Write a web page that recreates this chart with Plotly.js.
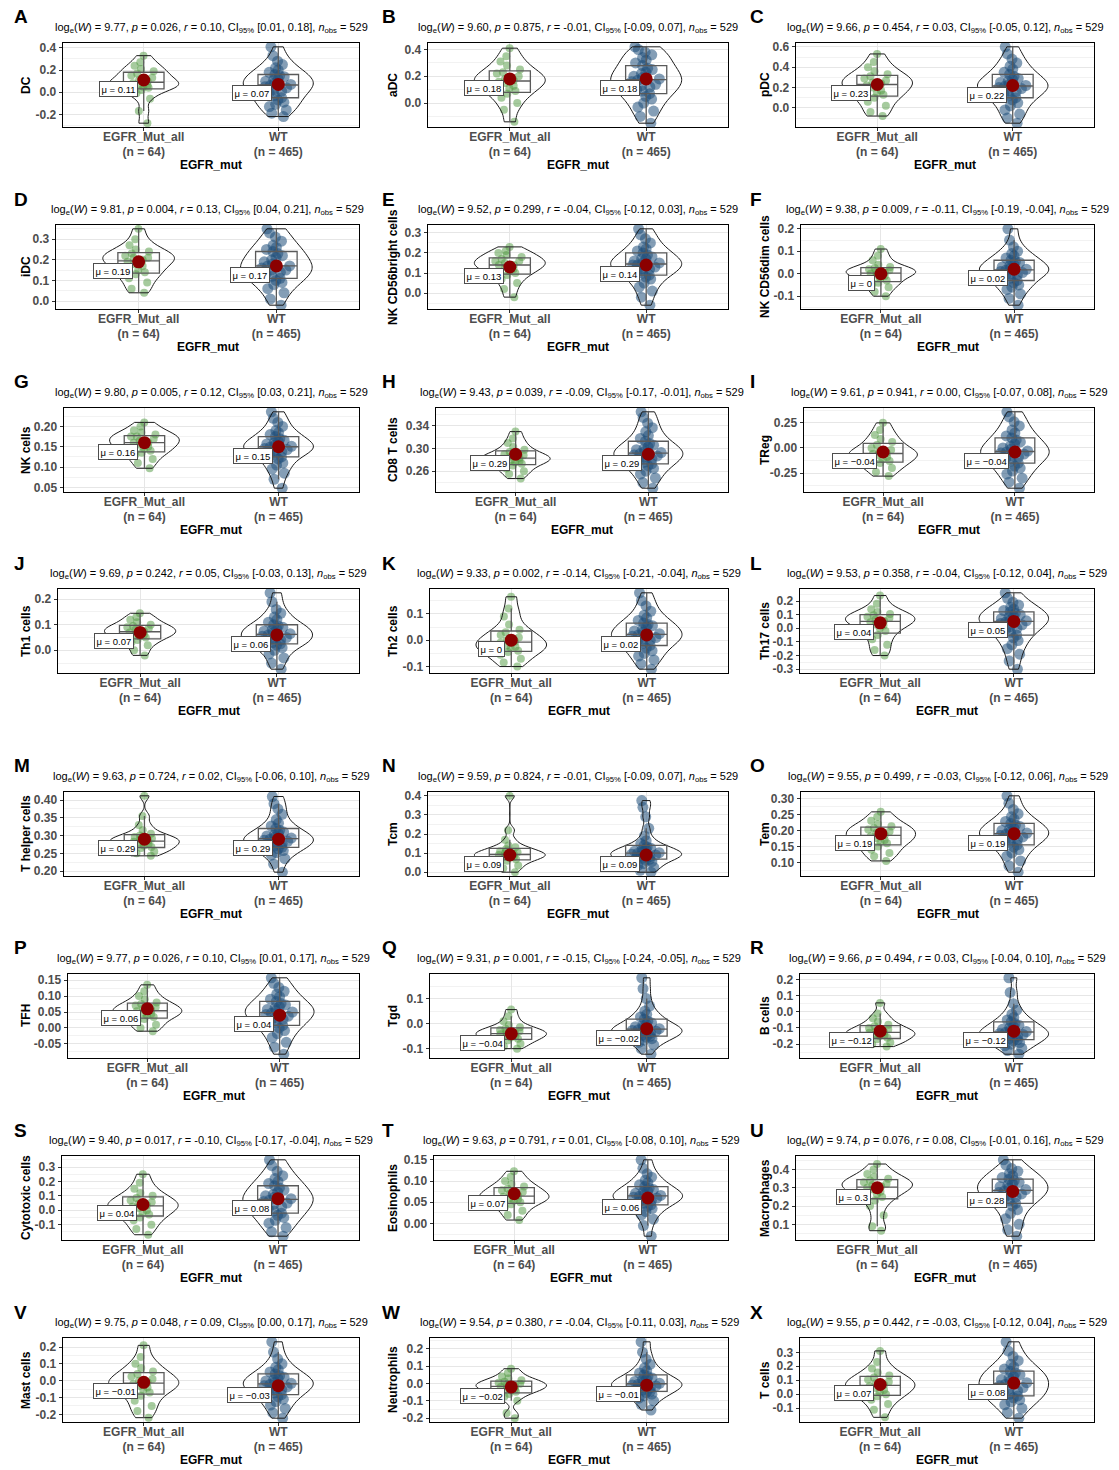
<!DOCTYPE html>
<html>
<head>
<meta charset="utf-8">
<script src="https://cdn.plot.ly/plotly-3.0.1.min.js"></script>
<style>html,body{margin:0;padding:0;background:#fff}#chart{width:1119px;height:1470px}</style>
</head>
<body>
<div id="chart"></div>
<script>
// ---------------- DATA ----------------
const groups = ["EGFR_Mut_all", "WT"];
const groupN = [64, 465];
const nObs = 529;
const panelLetters = ["A","B","C","D","E","F","G","H","I","J","K","L","M","N","O","P","Q","R","S","T","U","V","W","X"];
const cellTypes = ["DC","aDC","pDC","iDC","NK CD56bright cells","NK CD56dim cells","NK cells","CD8 T cells","TReg",
  "Th1 cells","Th2 cells","Th17 cells","T helper cells","Tcm","Tem","TFH","Tgd","B cells",
  "Cytotoxic cells","Eosinophils","Macrophages","Mast cells","Neutrophils","T cells"];
const logW   = ["9.77","9.60","9.66","9.81","9.52","9.38","9.80","9.43","9.61","9.69","9.33","9.53","9.63","9.59","9.55","9.77","9.31","9.66","9.40","9.63","9.74","9.75","9.54","9.55"];
const pVals  = ["0.026","0.875","0.454","0.004","0.299","0.009","0.005","0.039","0.941","0.242","0.002","0.358","0.724","0.824","0.499","0.026","0.001","0.494","0.017","0.791","0.076","0.048","0.380","0.442"];
const rVals  = ["0.10","-0.01","0.03","0.13","-0.04","-0.11","0.12","-0.09","0.00","0.05","-0.14","-0.04","0.02","-0.01","-0.03","0.10","-0.15","0.03","-0.10","0.01","0.08","0.09","-0.04","-0.03"];
const ciLow  = ["0.01","-0.09","-0.05","0.04","-0.12","-0.19","0.03","-0.17","-0.07","-0.03","-0.21","-0.12","-0.06","-0.09","-0.12","0.01","-0.24","-0.04","-0.17","-0.08","-0.01","0.00","-0.11","-0.12"];
const ciHigh = ["0.18","0.07","0.12","0.21","0.03","-0.04","0.21","-0.01","0.08","0.13","-0.04","0.04","0.10","0.07","0.06","0.17","-0.05","0.10","-0.04","0.10","0.16","0.17","0.03","0.04"];
const meanMut = [0.11,0.18,0.23,0.19,0.13,0,0.16,0.29,-0.04,0.07,0,0.04,0.29,0.09,0.19,0.06,-0.04,-0.12,0.04,0.07,0.3,-0.01,-0.02,0.07];
const meanWT  = [0.07,0.18,0.22,0.17,0.14,0.02,0.15,0.29,-0.04,0.06,0.02,0.05,0.29,0.09,0.19,0.04,-0.02,-0.12,0.08,0.06,0.28,-0.03,-0.01,0.08];

// estimated values per group
const mut_DC = [-0.28,-0.17,-0.06,-0.01,0.02,0.04,0.05,0.06,0.07,0.08,0.10,0.11,0.13,0.15,0.17,0.19,0.21,0.24,0.27,0.33];
const wt_DC  = [-0.22,-0.19,-0.16,-0.13,-0.11,-0.09,-0.07,-0.05,-0.03,-0.01,0.01,0.02,0.04,0.05,0.06,0.07,0.08,0.10,0.11,0.12,0.14,0.15,0.16,0.18,0.20,0.22,0.25,0.28,0.33,0.41];
const mut_aDC = [-0.14,-0.05,0.00,0.04,0.07,0.09,0.11,0.13,0.15,0.16,0.17,0.18,0.20,0.22,0.23,0.25,0.28,0.31,0.35,0.41];
const wt_aDC  = [-0.15,-0.10,-0.06,-0.03,0.00,0.03,0.05,0.07,0.09,0.10,0.12,0.13,0.14,0.16,0.17,0.18,0.19,0.20,0.22,0.23,0.25,0.26,0.28,0.30,0.32,0.34,0.36,0.38,0.40,0.42];
const mut_pDC = [-0.08,-0.04,0.02,0.06,0.10,0.13,0.15,0.17,0.20,0.22,0.24,0.25,0.27,0.29,0.31,0.33,0.36,0.40,0.45,0.53];
const wt_pDC  = [-0.15,-0.10,-0.06,-0.02,0.02,0.05,0.08,0.10,0.12,0.14,0.16,0.17,0.19,0.20,0.21,0.22,0.23,0.25,0.26,0.28,0.29,0.31,0.33,0.35,0.38,0.41,0.44,0.48,0.53,0.60];
const mut_iDC = [0.04,0.06,0.09,0.11,0.13,0.14,0.15,0.17,0.18,0.19,0.20,0.21,0.21,0.22,0.23,0.24,0.25,0.27,0.30,0.35];
const wt_iDC  = [-0.02,0.01,0.04,0.06,0.08,0.09,0.10,0.11,0.12,0.13,0.14,0.15,0.15,0.16,0.17,0.17,0.18,0.19,0.20,0.21,0.22,0.23,0.24,0.25,0.26,0.27,0.29,0.31,0.33,0.35];
const mut_NKbright = [-0.02,0.02,0.05,0.07,0.09,0.10,0.11,0.12,0.13,0.14,0.14,0.15,0.16,0.16,0.17,0.18,0.19,0.20,0.21,0.23];
const wt_NKbright  = [-0.06,-0.02,0.01,0.03,0.05,0.07,0.08,0.09,0.10,0.11,0.12,0.12,0.13,0.14,0.14,0.15,0.15,0.16,0.17,0.17,0.18,0.19,0.20,0.21,0.22,0.23,0.25,0.27,0.29,0.32];
const mut_NKdim = [-0.10,-0.08,-0.06,-0.05,-0.04,-0.03,-0.02,-0.01,-0.005,0.0,0.005,0.01,0.015,0.02,0.025,0.03,0.04,0.06,0.08,0.11];
const wt_NKdim  = [-0.14,-0.11,-0.09,-0.07,-0.06,-0.05,-0.04,-0.03,-0.02,-0.01,-0.005,0.0,0.005,0.01,0.015,0.02,0.025,0.03,0.035,0.04,0.05,0.055,0.06,0.07,0.08,0.09,0.10,0.12,0.15,0.20];
const mut_NK = [0.097,0.11,0.12,0.13,0.135,0.14,0.145,0.15,0.155,0.16,0.16,0.165,0.17,0.175,0.175,0.18,0.185,0.19,0.20,0.21];
const wt_NK  = [0.048,0.07,0.085,0.095,0.105,0.11,0.12,0.125,0.13,0.135,0.138,0.14,0.143,0.146,0.149,0.151,0.154,0.157,0.16,0.163,0.166,0.17,0.175,0.18,0.185,0.19,0.20,0.21,0.22,0.236];
const mut_CD8 = [0.247,0.255,0.26,0.265,0.27,0.273,0.276,0.278,0.28,0.282,0.284,0.286,0.288,0.29,0.294,0.298,0.303,0.31,0.318,0.33];
const wt_CD8  = [0.23,0.24,0.248,0.255,0.26,0.265,0.27,0.273,0.276,0.279,0.282,0.285,0.287,0.289,0.291,0.293,0.295,0.298,0.30,0.303,0.306,0.309,0.313,0.318,0.323,0.33,0.337,0.345,0.355,0.365];
const mut_TReg = [-0.28,-0.24,-0.20,-0.17,-0.15,-0.13,-0.11,-0.09,-0.07,-0.06,-0.05,-0.04,-0.02,0.0,0.03,0.06,0.09,0.13,0.18,0.25];
const wt_TReg  = [-0.40,-0.34,-0.30,-0.26,-0.23,-0.20,-0.18,-0.15,-0.13,-0.11,-0.09,-0.08,-0.06,-0.05,-0.04,-0.03,-0.01,0.0,0.02,0.04,0.06,0.08,0.10,0.12,0.15,0.18,0.22,0.26,0.31,0.36];
const mut_Th1 = [-0.02,0.0,0.02,0.03,0.04,0.05,0.055,0.06,0.065,0.07,0.075,0.08,0.085,0.09,0.095,0.10,0.11,0.12,0.13,0.145];
const wt_Th1  = [-0.074,-0.05,-0.03,-0.015,0.0,0.01,0.02,0.025,0.03,0.035,0.04,0.045,0.05,0.055,0.06,0.065,0.07,0.075,0.08,0.085,0.09,0.095,0.10,0.11,0.12,0.13,0.145,0.16,0.19,0.225];
const mut_Th2 = [-0.10,-0.085,-0.07,-0.055,-0.045,-0.04,-0.03,-0.025,-0.02,-0.01,-0.005,0.0,0.01,0.02,0.03,0.04,0.06,0.09,0.12,0.165];
const wt_Th2  = [-0.11,-0.09,-0.075,-0.06,-0.05,-0.04,-0.03,-0.02,-0.012,-0.005,0.0,0.005,0.01,0.015,0.02,0.025,0.03,0.035,0.04,0.05,0.055,0.06,0.065,0.075,0.085,0.095,0.11,0.13,0.15,0.18];
const mut_Th17 = [-0.20,-0.16,-0.12,-0.08,-0.05,-0.02,0.0,0.02,0.03,0.045,0.055,0.065,0.075,0.085,0.095,0.105,0.12,0.14,0.18,0.24];
const wt_Th17  = [-0.30,-0.24,-0.19,-0.15,-0.12,-0.09,-0.07,-0.05,-0.03,-0.01,0.0,0.01,0.025,0.035,0.045,0.055,0.06,0.07,0.08,0.09,0.10,0.11,0.12,0.13,0.14,0.155,0.17,0.19,0.22,0.26];
const mut_Th = [0.243,0.25,0.255,0.26,0.265,0.268,0.272,0.276,0.28,0.283,0.286,0.289,0.292,0.296,0.30,0.305,0.315,0.33,0.355,0.412];
const wt_Th  = [0.197,0.22,0.235,0.245,0.252,0.258,0.263,0.267,0.271,0.275,0.278,0.281,0.284,0.287,0.29,0.293,0.296,0.299,0.302,0.306,0.31,0.315,0.32,0.327,0.335,0.345,0.36,0.375,0.39,0.41];
const mut_Tcm = [0.0,0.02,0.035,0.05,0.06,0.068,0.075,0.08,0.085,0.09,0.095,0.10,0.105,0.11,0.12,0.13,0.14,0.17,0.22,0.40];
const wt_Tcm  = [0.0,0.01,0.025,0.035,0.045,0.055,0.062,0.068,0.073,0.078,0.082,0.086,0.09,0.094,0.098,0.102,0.106,0.11,0.115,0.12,0.125,0.132,0.14,0.15,0.165,0.19,0.23,0.29,0.34,0.375];
const mut_Tem = [0.105,0.12,0.13,0.14,0.15,0.16,0.165,0.17,0.176,0.182,0.187,0.192,0.197,0.203,0.208,0.213,0.22,0.23,0.243,0.258];
const wt_Tem  = [0.07,0.09,0.105,0.12,0.13,0.14,0.148,0.155,0.162,0.168,0.172,0.176,0.18,0.184,0.188,0.192,0.196,0.2,0.204,0.208,0.212,0.217,0.222,0.228,0.235,0.243,0.252,0.265,0.285,0.308];
const mut_TFH = [-0.01,0.0,0.01,0.02,0.028,0.034,0.04,0.044,0.048,0.052,0.056,0.06,0.065,0.07,0.075,0.08,0.09,0.10,0.115,0.135];
const wt_TFH  = [-0.082,-0.06,-0.045,-0.03,-0.018,-0.008,0.0,0.008,0.015,0.021,0.027,0.032,0.037,0.042,0.046,0.05,0.054,0.058,0.062,0.067,0.072,0.077,0.083,0.09,0.098,0.106,0.115,0.127,0.14,0.157];
const mut_Tgd = [-0.10,-0.09,-0.08,-0.072,-0.066,-0.06,-0.055,-0.05,-0.046,-0.042,-0.038,-0.034,-0.03,-0.025,-0.02,-0.014,-0.005,0.01,0.03,0.056];
const wt_Tgd  = [-0.122,-0.1,-0.085,-0.075,-0.066,-0.06,-0.054,-0.05,-0.046,-0.042,-0.038,-0.034,-0.03,-0.027,-0.024,-0.02,-0.016,-0.012,-0.008,-0.003,0.003,0.01,0.018,0.027,0.037,0.05,0.07,0.1,0.14,0.183];
const mut_B = [-0.215,-0.2,-0.19,-0.18,-0.17,-0.16,-0.15,-0.145,-0.14,-0.13,-0.125,-0.12,-0.11,-0.1,-0.09,-0.08,-0.06,-0.04,-0.01,0.055];
const wt_B  = [-0.262,-0.24,-0.225,-0.21,-0.2,-0.19,-0.18,-0.172,-0.165,-0.158,-0.151,-0.145,-0.14,-0.134,-0.128,-0.122,-0.115,-0.108,-0.1,-0.092,-0.083,-0.073,-0.062,-0.05,-0.035,-0.015,0.01,0.05,0.12,0.21];
const mut_Cyto = [-0.17,-0.13,-0.1,-0.07,-0.05,-0.03,-0.015,0.0,0.015,0.025,0.035,0.045,0.055,0.07,0.085,0.1,0.12,0.15,0.19,0.25];
const wt_Cyto  = [-0.18,-0.15,-0.12,-0.09,-0.07,-0.05,-0.035,-0.02,-0.005,0.01,0.025,0.04,0.05,0.06,0.07,0.08,0.09,0.1,0.11,0.125,0.14,0.155,0.17,0.185,0.2,0.22,0.24,0.27,0.31,0.35];
const mut_Eos = [0.008,0.02,0.03,0.038,0.045,0.05,0.054,0.057,0.06,0.063,0.066,0.07,0.074,0.078,0.082,0.087,0.093,0.1,0.11,0.123];
const wt_Eos  = [-0.03,-0.005,0.01,0.02,0.028,0.035,0.04,0.044,0.048,0.051,0.054,0.057,0.06,0.062,0.064,0.066,0.068,0.071,0.074,0.077,0.08,0.083,0.087,0.091,0.096,0.102,0.109,0.117,0.13,0.15];
const mut_Mac = [0.065,0.09,0.15,0.2,0.23,0.25,0.265,0.278,0.29,0.3,0.308,0.315,0.322,0.33,0.34,0.35,0.36,0.375,0.4,0.43];
const wt_Mac  = [0.035,0.07,0.1,0.13,0.16,0.18,0.2,0.215,0.23,0.24,0.25,0.258,0.266,0.274,0.282,0.29,0.298,0.306,0.314,0.322,0.33,0.338,0.347,0.356,0.366,0.377,0.39,0.405,0.425,0.453];
const mut_Mast = [-0.22,-0.18,-0.15,-0.12,-0.09,-0.07,-0.055,-0.04,-0.03,-0.02,-0.01,0.0,0.01,0.025,0.04,0.055,0.075,0.1,0.14,0.21];
const wt_Mast  = [-0.223,-0.19,-0.165,-0.145,-0.125,-0.11,-0.095,-0.083,-0.072,-0.062,-0.053,-0.045,-0.037,-0.03,-0.023,-0.016,-0.009,-0.002,0.005,0.013,0.021,0.03,0.04,0.052,0.065,0.08,0.1,0.13,0.17,0.231];
const mut_Neu = [-0.20,-0.17,-0.1,-0.075,-0.06,-0.048,-0.04,-0.033,-0.026,-0.02,-0.014,-0.008,-0.002,0.004,0.01,0.018,0.028,0.04,0.06,0.085];
const wt_Neu  = [-0.153,-0.12,-0.1,-0.085,-0.072,-0.062,-0.053,-0.045,-0.038,-0.032,-0.026,-0.02,-0.014,-0.009,-0.004,0.001,0.006,0.012,0.018,0.025,0.032,0.04,0.049,0.06,0.073,0.09,0.11,0.14,0.18,0.24];
const mut_T = [-0.165,-0.11,-0.07,-0.04,-0.015,0.0,0.015,0.03,0.045,0.058,0.068,0.078,0.09,0.105,0.12,0.135,0.155,0.185,0.23,0.31];
const wt_T  = [-0.171,-0.13,-0.1,-0.075,-0.055,-0.04,-0.025,-0.012,0.0,0.012,0.024,0.036,0.048,0.06,0.072,0.083,0.094,0.105,0.116,0.128,0.14,0.152,0.165,0.18,0.195,0.215,0.24,0.27,0.31,0.375];

const mutValues = [mut_DC,mut_aDC,mut_pDC,mut_iDC,mut_NKbright,mut_NKdim,mut_NK,mut_CD8,mut_TReg,mut_Th1,mut_Th2,mut_Th17,mut_Th,mut_Tcm,mut_Tem,mut_TFH,mut_Tgd,mut_B,mut_Cyto,mut_Eos,mut_Mac,mut_Mast,mut_Neu,mut_T];
const wtValues  = [wt_DC,wt_aDC,wt_pDC,wt_iDC,wt_NKbright,wt_NKdim,wt_NK,wt_CD8,wt_TReg,wt_Th1,wt_Th2,wt_Th17,wt_Th,wt_Tcm,wt_Tem,wt_TFH,wt_Tgd,wt_B,wt_Cyto,wt_Eos,wt_Mac,wt_Mast,wt_Neu,wt_T];

// ---------------- AXIS FORMAT ----------------
const yDtick = [0.2,0.2,0.2,0.1,0.1,0.1,0.05,0.04,0.25,0.1,0.1,0.1,0.05,0.1,0.05,0.05,0.1,0.1,0.1,0.05,0.1,0.1,0.1,0.1];
const yDec   = [1,1,1,1,1,1,2,2,2,1,1,1,2,1,2,2,1,1,1,2,1,1,1,1];
const yTick0 = [0,0,0,0,0,0,0,0.02,0,0,0,0,0,0,0,0,0,0,0,0,0,0,0,0];

// ---------------- LAYOUT GEOMETRY (px) ----------------
const W = 1119, H = 1470;
const colRight = [359, 728, 1094];
const rowTop = [43, 225, 408, 589, 792, 974, 1156, 1338];
const plotH = 84;
const panelLeft = [63,428,796, 56,428,801, 64,436,804, 58,430,800, 64,428,801, 68,430,800, 62,434,796, 63,430,800];
const letterX = [12, 380, 748];
const yTitleX = [26, 393, 765];

const FONT = 'Liberation Sans, Arial, Helvetica, sans-serif';
const colMut = 'rgb(78,152,62)';
const colWT = 'rgb(31,78,122)';

function px2x(p) { return p / W; }
function px2y(p) { return 1 - p / H; }
function quant(sorted, p) {
  const h = (sorted.length - 1) * p, lo = Math.floor(h), hi = Math.ceil(h);
  return sorted[lo] + (sorted[hi] - sorted[lo]) * (h - lo);
}
function kdeBandwidth(vals) {
  const s = vals.slice().sort((a, b) => a - b);
  const m = s.reduce((a, b) => a + b, 0) / s.length;
  const sd = Math.sqrt(s.reduce((a, b) => a + (b - m) * (b - m), 0) / (s.length - 1));
  const iqr = quant(s, 0.75) - quant(s, 0.25);
  const lo = Math.min(sd, iqr / 1.34) || sd;
  return 0.9 * lo * Math.pow(40, -0.2);
}
function fmtMu(v) { return 'μ = ' + (v < 0 ? '−' + String(Math.abs(v)) : String(v)); }

const traces = [];
const annotations = [];
const layout = {
  width: W, height: H,
  margin: {l: 0, r: 0, t: 0, b: 0},
  paper_bgcolor: 'white', plot_bgcolor: 'white',
  showlegend: false,
  violinmode: 'overlay',
  font: {family: FONT, color: 'black'}
};

for (let i = 0; i < 24; i++) {
  const r = Math.floor(i / 3), c = i % 3, k = i + 1;
  const sfx = k === 1 ? '' : String(k);
  const xa = 'x' + sfx, ya = 'y' + sfx;
  const left = panelLeft[i], right = colRight[c], top = rowTop[r], bottom = top + plotH;
  const sets = [mutValues[i], wtValues[i]];
  const all = sets[0].concat(sets[1]);
  const mn = Math.min.apply(null, all), mx = Math.max.apply(null, all);
  const R = mx - mn;
  const lo = mn - 0.05 * R, hi = mx + 0.05 * R;

  // ticks: breaks inside the data limits, minor breaks across the whole panel
  const d = yDtick[i], t0 = yTick0[i];
  const tv = [], tt = [], mv = [];
  const kStart = Math.ceil((lo - t0) / d - 1e-9) - 1;
  for (let q = kStart; t0 + q * d <= hi + 1e-9; q++) {
    let v = +(t0 + q * d).toFixed(6);
    if (Math.abs(v) < 1e-9) v = 0;
    if (v >= mn - 1e-6 && v <= mx + 1e-6) { tv.push(v); tt.push(v.toFixed(yDec[i])); }
    const mvv = +(t0 + (q + 0.5) * d).toFixed(6);
    if (mvv >= lo && mvv <= hi) mv.push(mvv);
  }

  layout['xaxis' + sfx] = {
    domain: [px2x(left), px2x(right)], anchor: ya,
    range: [-0.6, 1.6], tickmode: 'array', tickvals: [0, 1],
    ticktext: groups.map((g, j) => g + '<br>(n = ' + groupN[j] + ')'),
    showgrid: true, gridcolor: '#E6E6E6', gridwidth: 1, zeroline: false,
    showline: true, mirror: true, linecolor: 'black', linewidth: 1.4,
    ticks: 'outside', ticklen: 3, tickcolor: '#333', tickwidth: 1,
    ticklabelstandoff: -5,
    tickfont: {family: FONT, size: 12, color: '#4D4D4D', weight: 'bold'},
    fixedrange: true
  };
  layout['yaxis' + sfx] = {
    domain: [px2y(bottom), px2y(top)], anchor: xa,
    range: [lo, hi], tickmode: 'array', tickvals: tv, ticktext: tt,
    showgrid: true, gridcolor: '#E6E6E6', gridwidth: 1, zeroline: false,
    minor: {tickmode: 'array', tickvals: mv, showgrid: true, gridcolor: '#EFEFEF', gridwidth: 0.8, ticks: ''},
    showline: true, mirror: true, linecolor: 'black', linewidth: 1.4,
    ticks: 'outside', ticklen: 3, tickcolor: '#333', tickwidth: 1,
    tickfont: {family: FONT, size: 12, color: '#4D4D4D', weight: 'bold'},
    fixedrange: true
  };

  // jittered points (under outlines)
  sets.forEach((vals, g) => {
    traces.push({
      type: 'violin', x0: g, y: vals, xaxis: xa, yaxis: ya,
      width: 0.52, scalemode: 'width', spanmode: 'hard',
      bandwidth: kdeBandwidth(vals),
      line: {color: 'rgba(0,0,0,0)', width: 0}, fillcolor: 'rgba(0,0,0,0)',
      points: 'all', pointpos: 0, jitter: 0.42,
      marker: {color: g === 0 ? colMut : colWT, size: g === 0 ? 8 : 11, opacity: g === 0 ? 0.5 : 0.55, line: {width: 0}},
      box: {visible: false}, meanline: {visible: false},
      hoverinfo: 'skip', showlegend: false
    });
  });
  // violin outlines + boxes
  sets.forEach((vals, g) => {
    traces.push({
      type: 'violin', x0: g, y: vals, xaxis: xa, yaxis: ya,
      width: 0.52, scalemode: 'width', spanmode: 'hard',
      bandwidth: kdeBandwidth(vals),
      line: {color: '#1a1a1a', width: 1}, fillcolor: 'rgba(0,0,0,0)',
      points: false,
      box: {visible: true, width: 0.58, fillcolor: 'rgba(0,0,0,0)', line: {color: '#5a5a5a', width: 1.3}},
      meanline: {visible: false},
      hoverinfo: 'skip', showlegend: false
    });
  });
  // means
  const means = [meanMut[i], meanWT[i]];
  traces.push({
    type: 'scatter', mode: 'markers', x: [0, 1], y: means, xaxis: xa, yaxis: ya,
    marker: {color: '#8B0000', size: 13, line: {width: 0}},
    hoverinfo: 'skip', showlegend: false
  });
  means.forEach((m, g) => {
    annotations.push({
      xref: xa, yref: ya, x: g, y: m, text: fmtMu(m), showarrow: false,
      xanchor: 'right', yanchor: 'middle', xshift: -6, yshift: -9,
      bgcolor: 'white', bordercolor: '#4D4D4D', borderwidth: 1, borderpad: 1.5,
      font: {family: FONT, size: 9.5, color: 'black'}
    });
  });

  // texts
  const cx = (left + right) / 2;
  annotations.push({
    xref: 'paper', yref: 'paper', x: px2x(letterX[c]), y: px2y(top - 26),
    xanchor: 'left', yanchor: 'middle', showarrow: false,
    text: '<b>' + panelLetters[i] + '</b>', font: {family: FONT, size: 19, color: 'black'}
  });
  annotations.push({
    xref: 'paper', yref: 'paper', x: px2x(cx), y: px2y(top - 15),
    xanchor: 'center', yanchor: 'middle', showarrow: false,
    text: 'log<sub>e</sub>(<i>W</i>) = ' + logW[i] + ', <i>p</i> = ' + pVals[i] + ', <i>r</i> = ' + rVals[i] +
          ', CI<sub>95%</sub> [' + ciLow[i] + ', ' + ciHigh[i] + '], <i>n</i><sub>obs</sub> = ' + nObs,
    font: {family: FONT, size: 11, color: 'black'}
  });
  annotations.push({
    xref: 'paper', yref: 'paper', x: px2x(yTitleX[c]), y: px2y(top + plotH / 2),
    xanchor: 'center', yanchor: 'middle', showarrow: false, textangle: -90,
    text: '<b>' + cellTypes[i] + '</b>', font: {family: FONT, size: 12, color: 'black'}
  });
  annotations.push({
    xref: 'paper', yref: 'paper', x: px2x(cx), y: px2y(bottom + 38),
    xanchor: 'center', yanchor: 'middle', showarrow: false,
    text: '<b>EGFR_mut</b>', font: {family: FONT, size: 12, color: 'black'}
  });
}
layout.annotations = annotations;

Plotly.newPlot('chart', traces, layout, {staticPlot: true, displayModeBar: false});
</script>
</body>
</html>
